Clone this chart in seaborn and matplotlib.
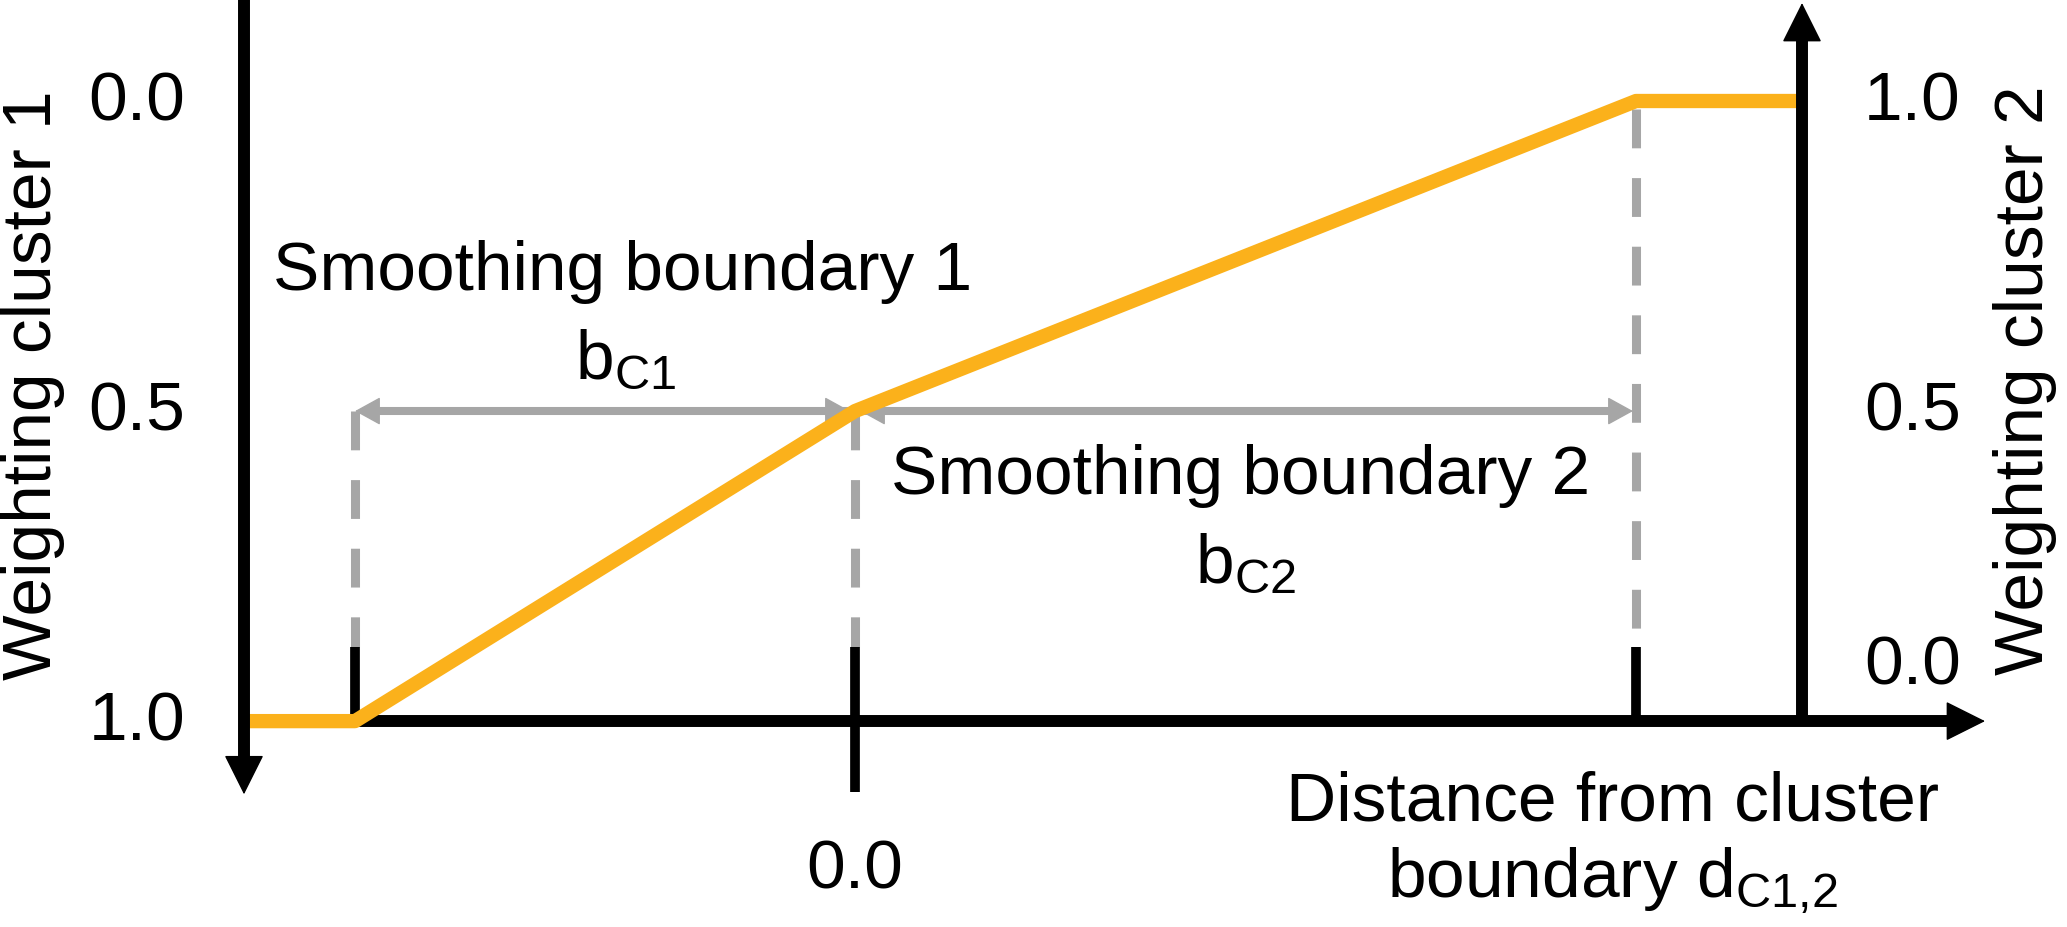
import matplotlib.pyplot as plt
import seaborn as sns

# weighting curve: distance to boundary vs. weight of cluster 2
dist = [-1.222, -1.0, 0.0, 1.562, 1.894]
weight_c2 = [0.0, 0.0, 0.5, 1.0, 1.0]

# smoothing boundaries (bC1 left, 0 = cluster boundary, bC2 right)
bound_pos = [-1.0, 0.0, 1.562]
dash_top = [0.5, 0.5, 0.987]

# axis tick labels (left axis runs the other way)
left_ticks = [1.0, 0.5, 0.0]
left_labels = ['0.0', '0.5', '1.0']
right_ticks = [1.0, 0.5, 0.09]
right_labels = ['1.0', '0.5', '0.0']

orange = '#FBB11B'
gray = '#A6A6A6'

sns.set_style('white')
plt.rcParams['font.family'] = ['Liberation Sans', 'DejaVu Sans']
plt.rcParams['text.color'] = 'black'
plt.rcParams['mathtext.fontset'] = 'custom'
plt.rcParams['mathtext.rm'] = 'Liberation Sans'
plt.rcParams['mathtext.it'] = 'Liberation Sans'
fs = 50

fig = plt.figure(figsize=(20.67, 9.28), dpi=100)
ax = fig.add_axes([0, 0, 1, 1])
ax.set_xlim(-1.71, 2.424)
ax.set_ylim(-0.332, 1.1645)
ax.axis('off')

x_left, x_right = dist[0], dist[-1]

# x axis
ax.plot([x_left, 2.22], [0, 0], color='black', lw=8.6, solid_capstyle='butt', zorder=3)
ax.annotate('', xy=(2.26, 0), xytext=(2.0, 0),
            arrowprops=dict(arrowstyle='-|>', color='black', lw=1, shrinkA=0, shrinkB=0,
                            mutation_scale=65), zorder=3)
# left axis (pointing down)
ax.plot([x_left, x_left], [1.1645, -0.07], color='black', lw=8.6, solid_capstyle='butt', zorder=6)
ax.annotate('', xy=(x_left, -0.118), xytext=(x_left, 0.2),
            arrowprops=dict(arrowstyle='-|>', color='black', lw=1, shrinkA=0, shrinkB=0,
                            mutation_scale=65), zorder=6)
# right axis (pointing up)
ax.plot([x_right, x_right], [0, 1.11], color='black', lw=8.6, solid_capstyle='butt', zorder=6)
ax.annotate('', xy=(x_right, 1.158), xytext=(x_right, 0.8),
            arrowprops=dict(arrowstyle='-|>', color='black', lw=1, shrinkA=0, shrinkB=0,
                            mutation_scale=65), zorder=6)

# dashed helper lines and black ticks at the boundaries
for bx, top in zip(bound_pos, dash_top):
    ax.plot([bx, bx], [top, 0.119], color=gray, lw=6.5, dashes=(4.3, 3.3), zorder=2)
    bottom = -0.115 if bx == 0.0 else 0
    ax.plot([bx, bx], [0.119, bottom], color='black', lw=7, solid_capstyle='butt', zorder=3)

# gray double arrows for the smoothing widths
ax.plot([bound_pos[0] + 0.03, bound_pos[2] - 0.03], [0.5, 0.5], color=gray, lw=5.8,
        solid_capstyle='butt', zorder=2)
for a, b in [(bound_pos[0], bound_pos[1] - 0.01), (bound_pos[1] + 0.01, bound_pos[2] - 0.006)]:
    ax.annotate('', xy=(b, 0.5), xytext=(a, 0.5),
                arrowprops=dict(arrowstyle='<|-|>,head_length=0.4,head_width=0.22', color=gray,
                                lw=1, shrinkA=0, shrinkB=0, mutation_scale=41), zorder=2)

# weighting curve
sns.lineplot(x=dist, y=weight_c2, color=orange, lw=10.3, ax=ax, zorder=5)
ax.lines[-1].set_solid_capstyle('butt')

# tick labels
for y, lab in zip(left_ticks, left_labels):
    ax.text(-1.34, y, lab, fontsize=fs, ha='right', va='center')
for y, lab in zip(right_ticks, right_labels):
    ax.text(2.018, y, lab, fontsize=fs, ha='left', va='center')
ax.text(0.0, -0.239, '0.0', fontsize=fs, ha='center', va='center')

# axis titles
ax.text(-1.644, 0.544, 'Weighting cluster 1', fontsize=fs, rotation=90, ha='center', va='center')
ax.text(2.34, 0.552, 'Weighting cluster 2', fontsize=fs, rotation=90, ha='center', va='center')
ax.text(1.514, -0.158, 'Distance from cluster', fontsize=fs, ha='center', va='baseline')
ax.text(1.514, -0.282, r'boundary d$_{\mathrm{C1{,}2}}$', fontsize=fs, ha='center', va='baseline')

# boundary annotations
ax.text(-0.464, 0.697, 'Smoothing boundary 1', fontsize=fs, ha='center', va='baseline')
ax.text(-0.458, 0.553, r'b$_{\mathrm{C1}}$', fontsize=fs, ha='center', va='baseline')
ax.text(0.772, 0.368, 'Smoothing boundary 2', fontsize=fs, ha='center', va='baseline')
ax.text(0.782, 0.224, r'b$_{\mathrm{C2}}$', fontsize=fs, ha='center', va='baseline')

fig.savefig('out.png', dpi=100)
